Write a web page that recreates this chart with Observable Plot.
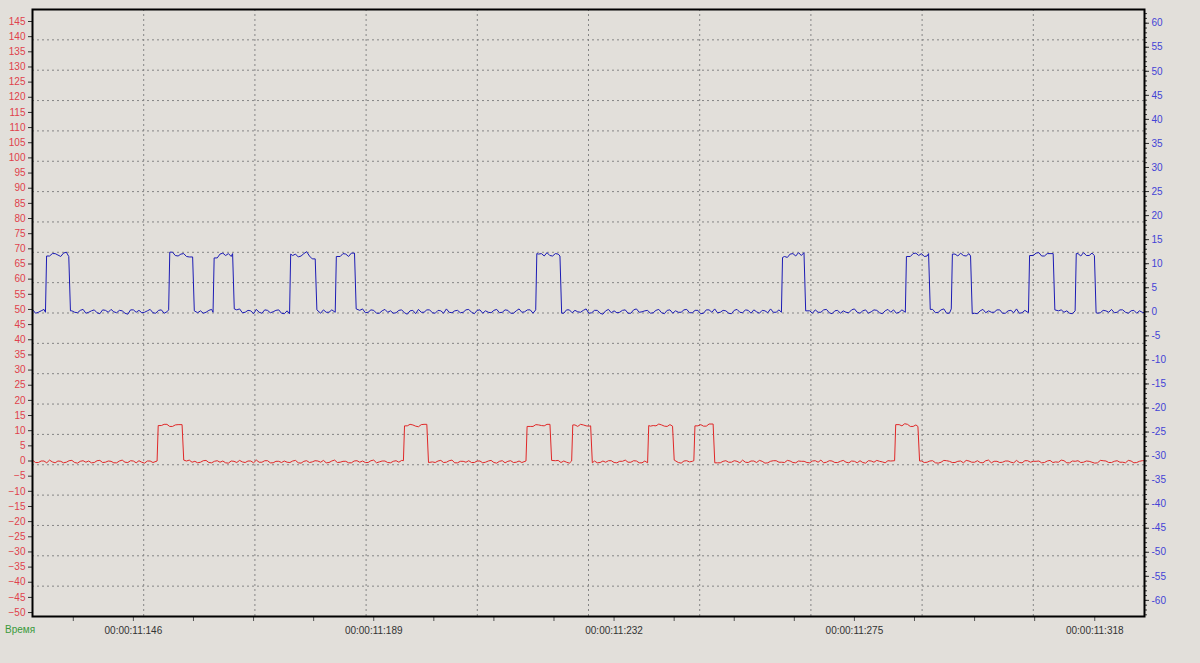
<!DOCTYPE html>
<html>
<head>
<meta charset="utf-8">
<script src="https://cdn.jsdelivr.net/npm/d3@7"></script>
<script src="https://cdn.jsdelivr.net/npm/@observablehq/plot@0.6"></script>
<style>
  html, body { margin: 0; padding: 0; background: #e2dfda; }
  #wrap { position: relative; width: 1200px; height: 663px; }
  #xname { position: absolute; left: 5px; top: 624px; font: 10px "Liberation Sans", Arial, sans-serif; color: #3a9a3a; }
</style>
</head>
<body>
<div id="wrap"><div id="xname">Время</div></div>
<script>
// ---- scales ----
const xDomain = [127.95, 326.9];          // ms within second 11
const leftDomain = [-51.3, 148.96];       // red axis
const rightDomain = [-63.35, 62.85];      // blue axis

// ---- tick labels ----
const xMajor = [146, 189, 232, 275, 318];
const xTicks = [135.25, 146, 156.75, 167.5, 178.25, 189, 199.75, 210.5, 221.25, 232, 242.75, 253.5, 264.25, 275, 285.75, 296.5, 307.25, 318];
const leftTicks = [-50, -45, -40, -35, -30, -25, -20, -15, -10, -5, 0, 5, 10, 15, 20, 25, 30, 35, 40, 45, 50, 55, 60, 65, 70, 75, 80, 85, 90, 95, 100, 105, 110, 115, 120, 125, 130, 135, 140, 145];
const rightTicks = [-60, -55, -50, -45, -40, -35, -30, -25, -20, -15, -10, -5, 0, 5, 10, 15, 20, 25, 30, 35, 40, 45, 50, 55, 60];

// ---- blue series (right axis) ----
const blueStart = [130.27, 152.31, 160.25, 173.94, 182.11, 217.98, 261.94, 284.11, 292.33, 306.14, 314.49];
const blueEnd   = [134.44, 156.60, 163.75, 178.53, 185.56, 222.32, 265.98, 288.27, 295.78, 310.56, 317.94];
const blueLow = 0.1, blueHigh = 11.9;
const noiseStart = 128; // ms; "Noise" = values at whole ms, "NoiseHalf" = values at +0.5 ms
const blueNoise = [0.3,-0.2,0.4,-0.3,0.2,-0.4,0.5,0.1,-0.3,0.4,-0.2,0.3,-0.5,0.2,0.4,-0.3,0.1,-0.6,0.3,0.2,
-0.2,0.4,-0.4,0.3,-0.1,0.5,-0.3,0.2,-0.5,0.3,0.1,-0.2,0.4,-0.7,0.3,0.2,-0.3,0.5,-0.2,0.1,
0.4,-0.4,0.2,-0.1,0.3,-0.5,0.4,0.1,-0.3,0.6,-0.9,0.2,0.3,-0.2,0.4,-0.4,0.1,0.3,-0.3,0.5,
-0.2,0.2,-0.4,0.4,0.1,-0.3,0.3,-0.6,0.2,0.4,-0.2,0.3,-0.4,0.1,0.5,-0.3,0.2,-0.2,0.4,-0.5,
0.3,0.1,-0.3,0.4,-0.2,0.2,-0.4,0.5,-0.1,0.3,-0.5,0.2,0.4,-0.3,0.1,-0.4,0.3,0.2,-0.2,0.5,
-0.3,0.2,-0.6,0.4,0.1,-0.2,0.3,-0.4,0.5,-0.1,0.2,-0.3,0.4,-0.5,0.3,0.1,-0.2,0.4,-0.3,0.2,
-0.4,0.3,0.5,-0.2,0.1,-0.5,0.4,-0.3,0.2,0.3,-0.4,0.1,0.5,-0.2,0.3,-0.6,0.2,0.4,-0.3,0.1,
0.3,-0.2,0.4,-0.5,0.2,0.1,-0.3,0.5,-0.4,0.3,-0.1,0.2,-0.5,0.4,0.3,-0.2,0.1,-0.4,0.3,0.2,
-0.3,0.4,-0.2,0.5,-0.4,0.1,0.3,-0.3,0.2,-0.5,0.4,0.1,-0.2,0.3,-0.4,0.2,0.5,-0.3,0.1,-0.2,
0.4,-0.3,0.2,-0.4,0.3,0.1,-0.5,0.2,0.4,-0.2,0.3,-0.3,0.1,0.4,-0.2,0.3,-0.4,0.2,0.1,-0.3];
const blueNoiseHalf = [-0.4,0.1,-0.5,0.2,-0.1,0.3,-0.3,-0.2,0.2,-0.4,0.1,-0.3,0.3,-0.2,-0.1,0.2,-0.4,0.3,-0.2,-0.3,
0.1,-0.3,0.2,-0.4,0.3,-0.2,0.1,-0.4,0.2,-0.3,-0.4,0.2,-0.3,0.1,-0.2,-0.4,0.3,-0.3,0.2,-0.5,
-0.2,0.3,-0.3,0.2,-0.4,0.1,-0.2,-0.5,0.2,-0.3,0.1,-0.4,-0.2,0.3,-0.3,0.2,-0.4,-0.1,0.2,-0.3,
0.3,-0.4,0.1,-0.2,-0.4,0.2,-0.3,0.1,-0.5,-0.2,0.3,-0.3,0.2,-0.4,-0.2,0.1,-0.3,0.3,-0.2,0.2,
-0.4,-0.2,0.2,-0.3,0.3,-0.4,0.1,-0.2,0.3,-0.4,0.1,-0.3,-0.2,0.2,-0.4,0.3,-0.3,-0.1,0.2,-0.4,
0.2,-0.4,0.1,-0.3,-0.3,0.2,-0.4,0.3,-0.2,0.1,-0.4,0.2,-0.3,0.2,-0.4,-0.2,0.3,-0.3,0.2,-0.5,
0.3,-0.2,-0.3,0.2,-0.4,0.2,-0.2,0.3,-0.4,-0.1,0.2,-0.3,-0.2,0.3,-0.4,0.1,-0.3,-0.2,0.2,-0.4,
-0.2,0.3,-0.3,0.1,-0.4,-0.2,0.3,-0.2,0.1,-0.4,0.3,-0.3,0.1,-0.2,-0.4,0.3,-0.3,0.2,-0.2,-0.4,
0.2,-0.3,0.3,-0.4,0.1,-0.3,-0.2,0.2,-0.4,0.1,-0.3,-0.2,0.3,-0.4,0.1,-0.3,-0.4,0.2,-0.2,0.3,
-0.3,0.2,-0.4,0.1,-0.2,-0.4,0.2,-0.3,-0.2,0.3,-0.4,0.2,-0.2,-0.3,0.3,-0.2,0.1,-0.4,-0.2,0.2];

// ---- red series (left axis) ----
const redStart = [150.24, 194.31, 216.24, 224.41, 238.0, 246.27, 282.19];
const redEnd   = [154.71, 198.50, 220.53, 227.81, 242.46, 249.72, 286.36];
const redLow = -0.2, redHigh = 11.8;
const redNoise = [0.4,-0.3,0.2,0.5,-0.4,0.1,-0.2,0.4,-0.5,0.3,0.2,-0.3,0.4,-0.2,0.1,-0.4,0.5,-0.3,0.2,0.3,
-0.5,0.2,0.4,-0.1,0.3,-0.4,0.2,-0.3,0.5,0.1,-0.2,0.4,-0.4,0.3,0.2,-0.5,0.1,0.4,-0.3,0.2,
0.5,-0.2,0.3,-0.4,0.1,0.2,-0.3,0.4,-0.5,0.3,-0.1,0.2,0.4,-0.3,0.5,-0.2,0.1,-0.4,0.3,0.2,
-0.3,0.5,-0.1,0.2,-0.4,0.3,0.4,-0.2,0.1,-0.5,0.3,0.2,-0.3,0.4,-0.2,0.5,-0.4,0.1,0.3,-0.3,
0.2,-0.2,0.4,-0.5,0.3,0.1,-0.3,0.2,0.5,-0.4,0.2,-0.1,0.3,-0.3,0.4,0.2,-0.5,0.1,0.3,-0.2,
0.4,-0.4,0.2,0.3,-0.3,0.1,0.5,-0.2,0.2,-0.4,0.3,-0.1,0.4,-0.3,0.2,0.5,-0.5,0.3,0.1,-0.2,
-0.3,0.4,0.2,-0.4,0.3,-0.2,0.1,0.5,-0.3,0.2,0.4,-0.5,0.1,0.3,-0.2,0.4,-0.3,0.2,0.1,-0.4,
0.3,0.5,-0.2,0.2,-0.3,0.4,-0.4,0.1,0.3,-0.5,0.2,0.4,-0.1,0.3,-0.3,0.2,0.5,-0.4,0.1,0.2,
-0.2,0.3,-0.5,0.4,0.1,-0.3,0.2,0.4,-0.2,0.3,-0.4,0.5,0.1,-0.3,0.2,-0.2,0.4,-0.4,0.3,0.1,
0.2,-0.3,0.4,-0.1,0.5,-0.4,0.2,0.3,-0.2,0.1,-0.5,0.4,0.2,-0.3,0.3,-0.2,0.4,-0.4,0.1,0.3];
const redNoiseHalf = [-0.3,0.2,-0.4,-0.1,0.2,-0.4,0.3,-0.3,0.1,-0.2,-0.4,0.3,-0.3,0.2,-0.4,0.2,-0.2,0.3,-0.4,-0.2,
0.2,-0.3,-0.2,0.3,-0.4,0.1,-0.3,0.2,-0.2,-0.4,0.3,-0.3,0.1,-0.2,-0.4,0.2,-0.3,-0.1,0.2,-0.4,
-0.2,0.3,-0.4,0.1,-0.3,-0.2,0.2,-0.4,0.1,-0.3,0.3,-0.2,-0.4,0.2,-0.3,0.1,-0.4,0.2,-0.2,-0.3,
0.3,-0.4,0.2,-0.3,0.1,-0.2,-0.4,0.3,-0.3,0.2,-0.4,-0.1,0.2,-0.3,0.3,-0.4,0.1,-0.2,-0.3,0.2,
-0.4,0.2,-0.3,0.1,-0.4,0.3,-0.2,-0.3,0.2,-0.4,0.1,-0.2,-0.4,0.3,-0.3,-0.2,0.2,-0.4,0.1,-0.3,
0.2,-0.3,-0.2,0.3,-0.4,0.1,-0.2,0.3,-0.4,0.2,-0.3,-0.2,0.1,-0.4,0.3,-0.3,0.2,-0.1,-0.4,0.2,
-0.3,0.2,-0.4,0.1,-0.2,0.3,-0.4,-0.2,0.2,-0.3,0.1,-0.4,0.3,-0.2,-0.3,0.2,-0.4,0.1,-0.3,0.2,
-0.2,-0.4,0.3,-0.3,0.1,-0.2,0.2,-0.4,-0.3,0.3,-0.2,0.1,-0.4,0.2,-0.3,-0.2,0.3,-0.4,0.1,-0.3,
0.2,-0.4,-0.2,0.3,-0.3,0.1,-0.4,0.2,-0.2,-0.3,0.3,-0.4,0.1,-0.2,0.2,-0.4,-0.3,0.3,-0.2,0.1,
-0.4,0.2,-0.3,-0.2,0.3,-0.4,0.1,-0.3,0.2,-0.2,-0.4,0.3,-0.3,0.1,-0.2,-0.4,0.2,-0.3,0.3,-0.2];

// ---- helpers ----
const toLeft = r => leftDomain[0] + (r - rightDomain[0]) * (leftDomain[1] - leftDomain[0]) / (rightDomain[1] - rightDomain[0]);
const fromLeft = l => rightDomain[0] + (l - leftDomain[0]) * (rightDomain[1] - rightDomain[0]) / (leftDomain[1] - leftDomain[0]);

function buildSeries(starts, ends, lo, hi, noise, noiseHalf) {
  const nz = t => noise[Math.max(0, Math.min(noise.length - 1, Math.round(t - noiseStart)))];
  const inPulse = t => starts.some((s, i) => t > s && t < ends[i]);
  const near = t => starts.some((s, i) => (t > s - 0.25 && t < s + 0.45) || (t > ends[i] - 0.25 && t < ends[i] + 0.55));
  const pts = [];
  const add = (t, n) => { if (!near(t)) pts.push({t, v: (inPulse(t) ? hi : lo) + n}); };
  noise.forEach((n, k) => add(noiseStart + k, n));
  noiseHalf.forEach((n, k) => add(noiseStart + k + 0.5, n));
  starts.forEach((s, i) => {
    const e = ends[i];
    pts.push({t: s, v: lo + nz(s - 1)}, {t: s + 0.2, v: hi + nz(s + 1)},
             {t: e, v: hi + nz(e - 1)}, {t: e + 0.3, v: lo + nz(e + 1)});
  });
  return pts.sort((a, b) => a.t - b.t);
}

const blueData = buildSeries(blueStart, blueEnd, blueLow, blueHigh, blueNoise, blueNoiseHalf).map(d => ({t: d.t, v: toLeft(d.v)}));
const redData = buildSeries(redStart, redEnd, redLow, redHigh, redNoise, redNoiseHalf);

const gridX = d3.range(1, 10).map(k => xDomain[0] + (xDomain[1] - xDomain[0]) * k / 10);
const gridY = d3.range(1, 20).map(k => leftDomain[0] + (leftDomain[1] - leftDomain[0]) * k / 20);
const rightMinor = d3.range(-63, 63, 1).map(toLeft);

const RED_TXT = "#e0414b", BLUE_TXT = "#4343d6", RED_LINE = "#e02828", BLUE_LINE = "#1c1cb4";

const chart = Plot.plot({
  width: 1200,
  height: 663,
  marginTop: 9,
  marginBottom: 47,
  marginLeft: 32,
  marginRight: 56,
  x: {domain: xDomain, label: null},
  y: {domain: leftDomain, label: null},
  style: {background: "#e2dfda", fontFamily: "'Liberation Sans', Arial, sans-serif", fontSize: "10px", color: "#222"},
  marks: [
    Plot.ruleX(gridX, {stroke: "#858585", strokeDasharray: "2,3", strokeWidth: 1}),
    Plot.ruleY(gridY, {stroke: "#858585", strokeDasharray: "2,3", strokeWidth: 1}),
    Plot.line(blueData, {x: "t", y: "v", stroke: BLUE_LINE, strokeWidth: 1, clip: true}),
    Plot.line(redData, {x: "t", y: "v", stroke: RED_LINE, strokeWidth: 1, clip: true}),
    Plot.axisY(leftTicks, {anchor: "left", tickSize: 4, tickPadding: 3, stroke: "#333", fill: RED_TXT, label: null, fontSize: 10}),
    Plot.axisY(rightMinor, {anchor: "right", tickSize: 2, stroke: "#333", tickFormat: () => "", label: null}),
    Plot.axisY(rightTicks.map(toLeft), {anchor: "right", tickSize: 4, tickPadding: 3, stroke: "#333", fill: BLUE_TXT, label: null,
      tickFormat: d => String(Math.round(fromLeft(d)))}),
    Plot.axisX(xTicks, {anchor: "bottom", tickSize: 5, tickPadding: 5, stroke: "#555", fill: "#333", label: null,
      tickFormat: d => xMajor.includes(d) ? `00:00:11:${d}` : ""}),
    Plot.frame({stroke: "black", strokeWidth: 2})
  ]
});
document.getElementById("wrap").prepend(chart);
</script>
</body>
</html>
